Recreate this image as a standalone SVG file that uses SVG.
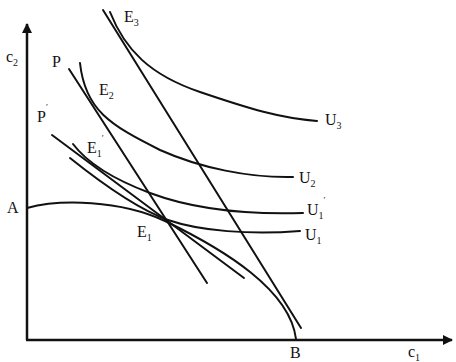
<svg xmlns="http://www.w3.org/2000/svg" width="456" height="362" viewBox="0 0 456 362">
<style>
.ax{fill:none;stroke:#111;stroke-width:2.5}
.cv{fill:none;stroke:#111;stroke-width:2;stroke-linecap:round}
text{font-family:"Liberation Serif","Times New Roman",serif;font-size:16px;fill:#111}
.s{font-size:10px}
.pr{font-size:9px}
</style>
<defs>
<marker id="arr" viewBox="0 0 10 10" refX="9" refY="5" markerWidth="4" markerHeight="4" orient="auto">
<path d="M0,0 L10,5 L0,10 z" fill="#111"/>
</marker>
</defs>
<rect width="456" height="362" fill="#fff"/>
<g id="axes">
<path class="ax" d="M27,340 L27,24" marker-end="url(#arr)"/>
<path class="ax" d="M26,340 L452,340" marker-end="url(#arr)"/>
</g>
<g id="connectors">
<path id="ppf" class="cv" d="M27,208 C60,199 120,200 165,221 C225,250 290,290 296,339"/>
<path id="lineE3" class="cv" d="M103,10 L301,328"/>
<path id="lineP" class="cv" d="M69,69 L207,283"/>
<path id="lineP1" class="cv" d="M52,135 L244,278"/>
<path id="U3" class="cv" d="M110,12 C125,50 150,75 200,92 C250,109 280,118 317,121"/>
<path id="U2" class="cv" d="M80,63 C85,110 110,125 160,150 C200,168 250,178 293,177"/>
<path id="U1p" class="cv" d="M73,144 C85,160 110,178 150,193 C190,208 240,215 303,213"/>
<path id="U1" class="cv" d="M70,158 C100,182 135,208 168,220 C200,231 250,235 300,231"/>
</g>
<g id="labels">
<text x="6" y="62">c<tspan class="s" dy="4">2</tspan></text>
<text x="408" y="357" font-size="16">c<tspan class="s" dy="4">1</tspan></text>
<text x="7" y="213">A</text>
<text x="290" y="358">B</text>
<text x="52" y="67">P</text>
<text x="37" y="122">P<tspan class="pr" dy="-12">′</tspan></text>
<text x="124" y="22">E<tspan class="s" dy="4">3</tspan></text>
<text x="99" y="95">E<tspan class="s" dy="4">2</tspan></text>
<text x="87" y="153">E<tspan class="s" dy="4">1</tspan><tspan class="pr" dy="-16">′</tspan></text>
<text x="137" y="237">E<tspan class="s" dy="4">1</tspan></text>
<text x="325" y="125">U<tspan class="s" dy="4">3</tspan></text>
<text x="299" y="183">U<tspan class="s" dy="4">2</tspan></text>
<text x="307" y="215">U<tspan class="s" dy="4">1</tspan><tspan class="pr" dy="-16">′</tspan></text>
<text x="305" y="240">U<tspan class="s" dy="4">1</tspan></text>
</g>
</svg>
